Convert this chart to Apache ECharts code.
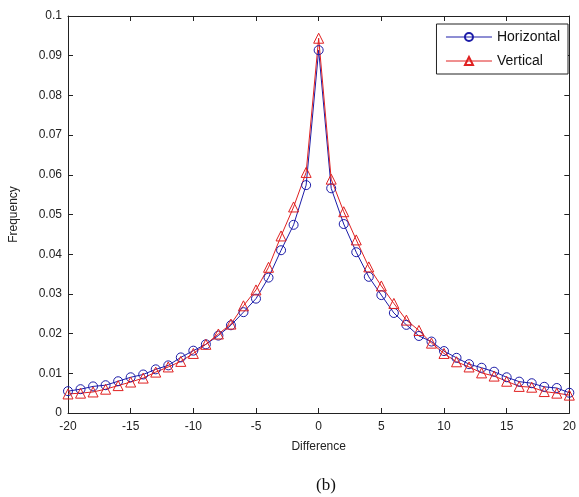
<!DOCTYPE html>
<html>
<head>
<meta charset="utf-8">
<script src="https://cdn.jsdelivr.net/npm/echarts@6/dist/echarts.min.js"></script>
<style>
  html, body { margin: 0; padding: 0; background: #fff; }
  #chart { width: 579px; height: 497px; }
</style>
</head>
<body>
<div id="chart"></div>
<script>
// valores
const differences = [-20, -19, -18, -17, -16, -15, -14, -13, -12, -11, -10, -9, -8, -7, -6, -5, -4, -3, -2, -1,
  0, 1, 2, 3, 4, 5, 6, 7, 8, 9, 10, 11, 12, 13, 14, 15, 16, 17, 18, 19, 20];

const horizontal = [0.0055, 0.0060, 0.0067, 0.0070, 0.0080, 0.0090, 0.0097, 0.0110, 0.0120, 0.0140, 0.0157,
  0.0173, 0.0195, 0.0221, 0.0254, 0.0288, 0.0341, 0.0410, 0.0474, 0.0574,
  0.0914, 0.0566, 0.0476, 0.0405, 0.0343, 0.0297, 0.0252, 0.0222, 0.0194, 0.0180, 0.0156,
  0.0139, 0.0123, 0.0114, 0.0104, 0.0090, 0.0079, 0.0075, 0.0066, 0.0063, 0.0051];

const vertical = [0.0048, 0.0050, 0.0053, 0.0060, 0.0069, 0.0078, 0.0088, 0.0103, 0.0116, 0.0130, 0.0150,
  0.0173, 0.0199, 0.0224, 0.0270, 0.0310, 0.0367, 0.0446, 0.0519, 0.0606,
  0.0944, 0.0589, 0.0507, 0.0436, 0.0368, 0.0320, 0.0276, 0.0234, 0.0208, 0.0176, 0.0150,
  0.0129, 0.0116, 0.0101, 0.0093, 0.0080, 0.0067, 0.0065, 0.0054, 0.0050, 0.0045];

const xTicks = { min: -20, max: 20, step: 5 };
const yTicks = { min: 0, max: 0.1, step: 0.01 };

function pairs(values) {
  return differences.map((d, i) => [d, values[i]]);
}

document.addEventListener('DOMContentLoaded', function() {
  const chart = echarts.init(document.getElementById('chart'), null, { renderer: 'canvas' });
  const font = 'Liberation Sans, Arial, sans-serif';
  const axisLine = { show: true, onZero: false, lineStyle: { color: '#222', width: 1 } };
  const tickIn = { show: true, inside: true, length: 5, lineStyle: { color: '#222' } };

  const option = {
    backgroundColor: '#fff',
    animation: false,
    title: {
      text: '(b)',
      left: 311,
      top: 472,
      textStyle: { fontFamily: 'Liberation Serif, Times New Roman, serif', fontSize: 17, fontWeight: 'normal', color: '#111' }
    },
    grid: { left: 67, right: 5, top: 16, bottom: 84 },
    legend: {
      orient: 'vertical',
      right: 11,
      top: 24,
      itemWidth: 46,
      itemHeight: 10,
      itemGap: 10,
      padding: [6, 8, 6, 9],
      borderColor: '#222',
      borderWidth: 1,
      backgroundColor: '#fff',
      lineStyle: { width: 1 },
      textStyle: { fontFamily: font, fontSize: 14, color: '#111' },
      data: ['Horizontal', 'Vertical']
    },
    xAxis: [
      {
        type: 'value',
        min: xTicks.min, max: xTicks.max, interval: xTicks.step,
        name: 'Difference',
        nameLocation: 'middle',
        nameGap: 28,
        nameTextStyle: { fontFamily: font, fontSize: 12, color: '#222' },
        axisLine: axisLine,
        axisTick: tickIn,
        splitLine: { show: false },
        axisLabel: { fontFamily: font, fontSize: 12, color: '#222', margin: 8 }
      },
      {
        type: 'value', position: 'top',
        min: xTicks.min, max: xTicks.max, interval: xTicks.step,
        axisLine: axisLine, axisTick: tickIn,
        splitLine: { show: false }, axisLabel: { show: false }
      }
    ],
    yAxis: [
      {
        type: 'value',
        min: yTicks.min, max: yTicks.max, interval: yTicks.step,
        name: 'Frequency',
        nameLocation: 'middle',
        nameGap: 48,
        nameTextStyle: { fontFamily: font, fontSize: 12, color: '#222' },
        axisLine: axisLine,
        axisTick: tickIn,
        splitLine: { show: false },
        axisLabel: { fontFamily: font, fontSize: 12, color: '#222', margin: 6 }
      },
      {
        type: 'value', position: 'right',
        min: yTicks.min, max: yTicks.max, interval: yTicks.step,
        axisLine: axisLine, axisTick: tickIn,
        splitLine: { show: false }, axisLabel: { show: false }
      }
    ],
    series: [
      {
        name: 'Horizontal',
        type: 'line',
        data: pairs(horizontal),
        symbol: 'circle',
        symbolSize: 9,
        lineStyle: { color: '#1c1ca8', width: 1 },
        itemStyle: { color: 'rgba(255,255,255,0)', borderColor: '#1c1ca8', borderWidth: 1 }
      },
      {
        name: 'Vertical',
        type: 'line',
        data: pairs(vertical),
        symbol: 'triangle',
        symbolSize: 10,
        lineStyle: { color: '#e02020', width: 1 },
        itemStyle: { color: 'rgba(255,255,255,0)', borderColor: '#e02020', borderWidth: 1 }
      }
    ]
  };

  chart.setOption(option);
});
</script>
</body>
</html>
